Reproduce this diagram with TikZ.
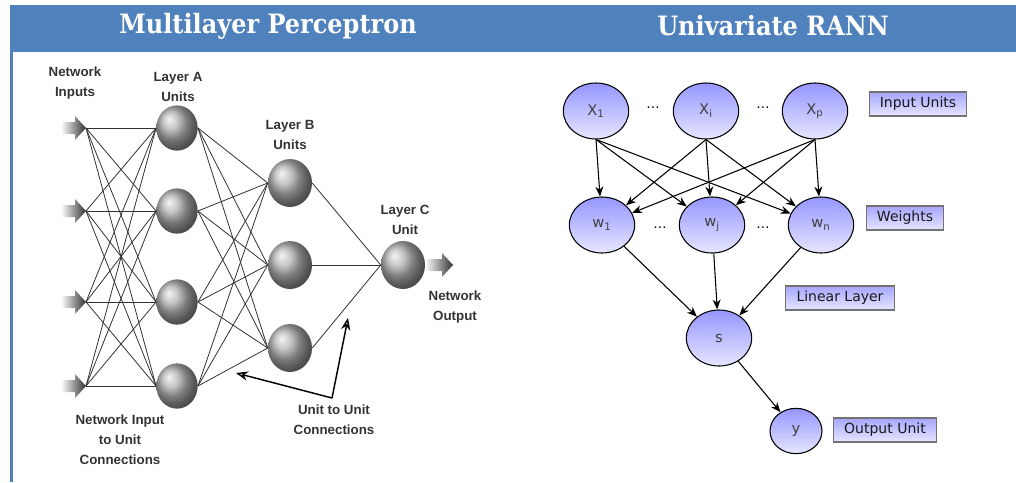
\documentclass[tikz,border=0pt]{standalone}
\usepackage{fontspec}
\setmainfont{DejaVu Sans}
\newfontfamily\titlefont[FakeStretch=0.9]{DejaVu Serif}
\newfontfamily\labelfont{Liberation Sans}
\usetikzlibrary{shapes.geometric,arrows.meta}
\definecolor{bandblue}{RGB}{79,129,189}
\definecolor{lavtop}{RGB}{150,150,255}
\definecolor{lavbot}{RGB}{230,230,255}

\begin{document}
\begin{tikzpicture}[x=0.75pt,y=-0.75pt,
    unit/.style={ellipse, minimum width=31pt, minimum height=34pt, shading=ball, ball color=gray!60},
    link/.style={draw=black!80, line width=0.6pt},
    inarrow/.style={left color=white, right color=black!80},
    pointer/.style={-{Stealth[open,length=9pt,width=7pt]}, line width=1.1pt},
    mlplabel/.style={font=\labelfont\bfseries\fontsize{10}{15}\selectfont, text=black!80, align=center},
    rnode/.style={ellipse, draw=black, line width=0.8pt, top color=lavtop, bottom color=lavbot, minimum width=49pt, minimum height=42pt, inner sep=0pt, font=\fontsize{11}{13}\selectfont, text=black!75},
    tag/.style={draw=black!55, line width=0.8pt, top color=lavtop!85, bottom color=lavbot, font=\fontsize{10.5}{12}\selectfont, text=black!90, inner xsep=8pt, minimum height=18pt},
    flow/.style={-{Stealth[length=7.5pt,width=6pt]}, line width=0.8pt},
    title/.style={font=\titlefont\bfseries\fontsize{20}{22}\selectfont, text=white}
]
\useasboundingbox (0,0) rectangle (1016,482);

% title band
\fill[bandblue] (10,5) rectangle (1016,52);
\fill[bandblue] (10,52) rectangle (13,482);
\node[title] (t1) at (268,26) {Multilayer Perceptron};
\node[title] (t2) at (773,26) {Univariate RANN};

% Multilayer perceptron
\foreach \i/\yy in {1/128,2/211,3/302,4/386} {
    \coordinate (in\i) at (86,\yy);
    \shade[inarrow] (in\i) -- ++(-11,-12) -- ++(0,6) -- ++(-14,0) -- ++(0,12) -- ++(14,0) -- ++(0,6) -- cycle;
    \node[unit] (a\i) at (177,\yy) {};
}
\foreach \i/\yy in {1/183,2/265,3/348}
    \node[unit, minimum width=33pt, minimum height=36pt] (b\i) at (290,\yy) {};
\node[unit, minimum width=33pt, minimum height=36pt] (c) at (403,265) {};
\coordinate (out) at (453,265);
\shade[inarrow] (out) -- ++(-11,-12) -- ++(0,6) -- ++(-17,0) -- ++(0,12) -- ++(17,0) -- ++(0,6) -- cycle;

\foreach \i in {1,...,4} {
    \foreach \j in {1,...,4}
        \draw[link] (in\i) -- (a\j.west);
    \foreach \k in {1,2,3}
        \draw[link] (a\i.east) -- (b\k.west);
}
\foreach \k in {1,2,3}
    \draw[link] (b\k.east) -- (c.west);

\node[mlplabel] (lin) at (75,83) {Network\\Inputs};
\node[mlplabel] (la) at (178,87) {Layer A\\Units};
\node[mlplabel] (lb) at (290,135) {Layer B\\Units};
\node[mlplabel] (lc) at (405,220) {Layer C\\Unit};
\node[mlplabel] (lout) at (455,307) {Network\\Output};
\node[mlplabel] (lcon) at (120,440) {Network Input\\to Unit\\Connections};
\node[mlplabel] (luu) at (334,420) {Unit to Unit\\Connections};

\coordinate (uu) at (332,398);
\coordinate (uu1) at (236,373);
\coordinate (uu2) at (348,318);
\draw[pointer] (uu) -- (uu1);
\draw[pointer] (uu) -- (uu2);

% Univariate RANN
\node[rnode] (x1) at (596,111) {X\textsubscript{1}};
\node[rnode] (xi) at (706,111) {X\textsubscript{i}};
\node[rnode] (xp) at (815,111) {X\textsubscript{p}};
\node[rnode] (w1) at (602,225) {w\textsubscript{1}};
\node[rnode] (wj) at (712,225) {w\textsubscript{j}};
\node[rnode] (wn) at (821,225) {w\textsubscript{n}};
\node[rnode] (s) at (719,338) {s};
\node[rnode, minimum width=39pt, minimum height=34pt] (y) at (796,431) {y};

\node (d1) at (653,108) {\dots};
\node (d2) at (763,108) {\dots};
\node (d3) at (660,228) {\dots};
\node (d4) at (763,228) {\dots};

\foreach \a in {x1,xi,xp}
    \foreach \b in {w1,wj,wn}
        \draw[flow] (\a.south) -- (\b);
\foreach \b in {w1,wj,wn}
    \draw[flow] (\b) -- (s);
\draw[flow] (s) -- (y);

\node[tag] (tin) at (918,104) {Input Units};
\node[tag] (tw) at (905,218) {Weights};
\node[tag] (tlin) at (840,298) {Linear Layer};
\node[tag] (tout) at (885,430) {Output Unit};
\end{tikzpicture}
\end{document}
